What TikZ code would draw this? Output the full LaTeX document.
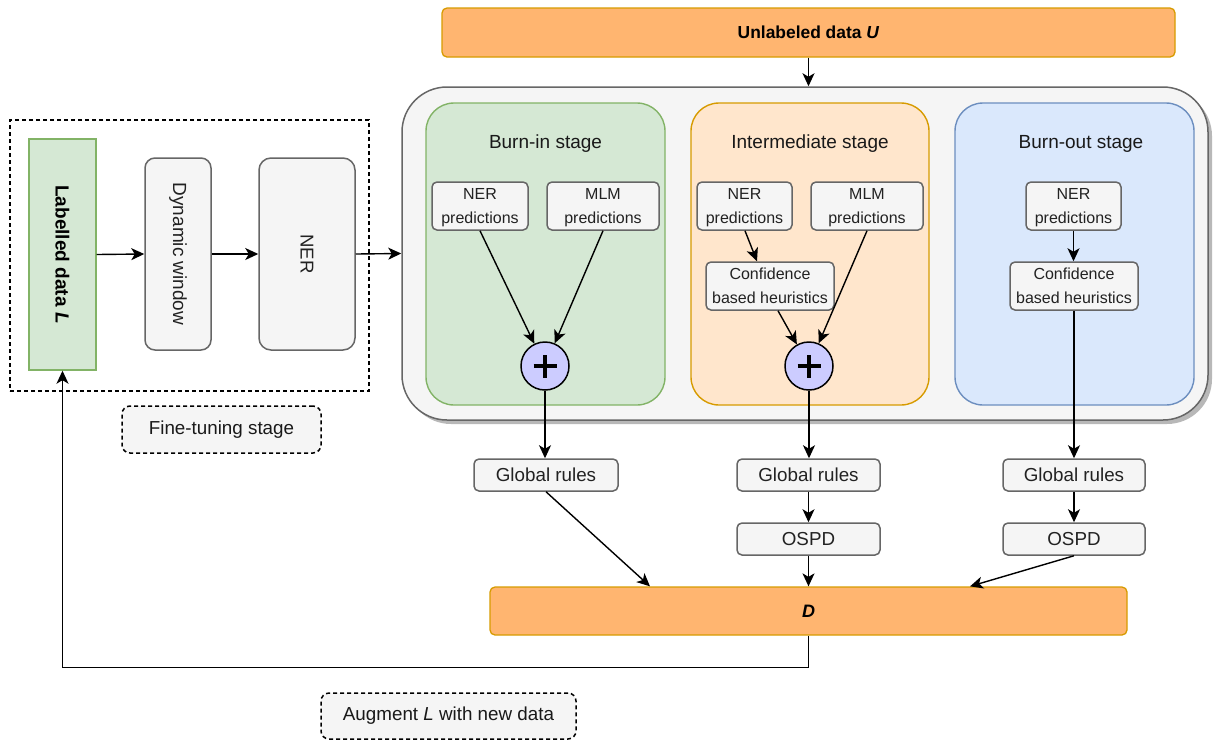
\documentclass[tikz,border=0pt]{standalone}
\usepackage{fontspec}
\setmainfont{Liberation Sans}
\usetikzlibrary{arrows.meta}
\definecolor{orfill}{HTML}{FFB570}
\definecolor{ordraw}{HTML}{D79B00}
\definecolor{grfill}{HTML}{D5E8D4}
\definecolor{grdraw}{HTML}{82B366}
\definecolor{pefill}{HTML}{FFE6CC}
\definecolor{bufill}{HTML}{DAE8FC}
\definecolor{budraw}{HTML}{6C8EBF}
\definecolor{gyfill}{HTML}{F5F5F5}
\definecolor{gydraw}{HTML}{666666}
\definecolor{gytext}{HTML}{222222}
\definecolor{plfill}{HTML}{CCCCFF}
\begin{document}
\begin{tikzpicture}[x=1pt,y=-1pt,
  arr/.style={-{Stealth[length=13pt,width=12pt,inset=3.5pt]}, line width=1.4pt, draw=black},
  gbox/.style={draw=gydraw, fill=gyfill, line width=1.5pt, rounded corners=5pt, inner sep=0pt, text=gytext, align=center},
  obox/.style={draw=ordraw, fill=orfill, line width=1.3pt, rounded corners=5pt, inner sep=0pt, align=center},
  stagebox/.style={line width=1.4pt, rounded corners=28pt, inner sep=0pt},
  small/.style={font=\fontsize{16}{23.5}\selectfont},
  midtxt/.style={font=\fontsize{18.8}{20}\selectfont},
  title/.style={font=\fontsize{19}{22}\selectfont, text=black!90},
  dashbox/.style={draw=black, line width=1.3pt, dash pattern=on 4pt off 3pt},
  pluscirc/.style={circle, draw=black, fill=plfill, line width=1.5pt, minimum size=48pt, inner sep=0pt}
]
\useasboundingbox (0,0) rectangle (1213,740);

% Unlabeled data
\node[obox, minimum width=733pt, minimum height=49pt, font=\bfseries\fontsize{17.4}{20}\selectfont] (U) at (808.5,32.5) {Unlabeled data \textit{U}};

% big container with shadow
\fill[black!28, rounded corners=45pt] (406,91) rectangle (1212,424);
\node[draw=gydraw, fill=gyfill, line width=1.5pt, rounded corners=45pt, minimum width=806pt, minimum height=333pt, inner sep=0pt] (big) at (805,253.5) {};

% stages
\node[stagebox, draw=grdraw, fill=grfill, minimum width=239pt, minimum height=302pt] (s1) at (545.5,254) {};
\node[stagebox, draw=ordraw, fill=pefill, minimum width=238pt, minimum height=302pt] (s2) at (810,254) {};
\node[stagebox, draw=budraw, fill=bufill, minimum width=239pt, minimum height=302pt] (s3) at (1074.5,254) {};
\node[title] (t1) at (545.5,143.5) {Burn-in stage};
\node[title] (t2) at (810,143.5) {Intermediate stage};
\node[title] (t3) at (1081,143.5) {Burn-out stage};

% small boxes
\node[gbox, small, minimum width=96pt, minimum height=48pt] (ner1) at (480,206) {NER\\\smash{predictions}};
\node[gbox, small, minimum width=112pt, minimum height=48pt] (mlm1) at (603,206) {MLM\\\smash{predictions}};
\node[gbox, small, minimum width=95pt, minimum height=48pt] (ner2) at (744.5,206) {NER\\\smash{predictions}};
\node[gbox, small, minimum width=112pt, minimum height=48pt] (mlm2) at (867,206) {MLM\\\smash{predictions}};
\node[gbox, small, minimum width=128pt, minimum height=48pt] (conf2) at (770,286) {Confidence\\based heuristics};
\node[gbox, small, minimum width=95pt, minimum height=48pt] (ner3) at (1073.5,206) {NER\\\smash{predictions}};
\node[gbox, small, minimum width=128pt, minimum height=48pt] (conf3) at (1074,286) {Confidence\\based heuristics};

% plus circles
\node[pluscirc] (p1) at (545,366) {};
\node[pluscirc] (p2) at (809,366) {};
\foreach \p in {p1,p2}{
  \draw[line width=4.6pt] ([xshift=-11.5pt]\p.center) -- ([xshift=11.5pt]\p.center);
  \draw[line width=4.6pt] ([yshift=-11.5pt]\p.center) -- ([yshift=11.5pt]\p.center);
}

% lower boxes
\node[gbox, midtxt, minimum width=144pt, minimum height=32pt] (gr1) at (546,475) {Global rules};
\node[gbox, midtxt, minimum width=143pt, minimum height=32pt] (gr2) at (808.5,475) {Global rules};
\node[gbox, midtxt, minimum width=142pt, minimum height=32pt] (gr3) at (1074,475) {Global rules};
\node[gbox, midtxt, minimum width=143pt, minimum height=32pt] (os2) at (808.5,539) {OSPD};
\node[gbox, midtxt, minimum width=142pt, minimum height=32pt] (os3) at (1074,539) {OSPD};
\node[obox, minimum width=637pt, minimum height=48pt, font=\bfseries\itshape\fontsize{18}{20}\selectfont] (D) at (808.5,611) {D};

% fine-tuning area
\node[dashbox, minimum width=359pt, minimum height=271pt, inner sep=0pt] (ft) at (189.5,255.5) {};
\node[draw=grdraw, fill=grfill, line width=1.4pt, minimum width=67pt, minimum height=231pt, inner sep=0pt] (L) at (62.5,254.5) {};
\node[rotate=-90, font=\bfseries\fontsize{19}{22}\selectfont] (Lt) at (L.center) {Labelled data \textit{L}};
\node[gbox, rounded corners=10pt, minimum width=66pt, minimum height=192pt] (dw) at (178,254) {};
\node[rotate=-90, text=gytext, font=\fontsize{19}{22}\selectfont] (dwt) at (dw.center) {Dynamic window};
\node[gbox, rounded corners=12pt, minimum width=96pt, minimum height=192pt] (nerb) at (307,254) {};
\node[rotate=-90, text=gytext, font=\fontsize{18.6}{22}\selectfont] (nerbt) at (nerb.center) {NER};
\node[gbox, dash pattern=on 4pt off 3pt, draw=black, rounded corners=8pt, minimum width=199pt, minimum height=47pt, text=black!90, font=\fontsize{18.8}{22}\selectfont] (fts) at (221.5,429.5) {Fine-tuning stage};
\node[gbox, dash pattern=on 4pt off 3pt, draw=black, rounded corners=8pt, minimum width=255pt, minimum height=46pt, text=black!90, font=\fontsize{18.8}{22}\selectfont] (aug) at (448.5,716) {Augment \textit{L} with new data};

% connectors
\draw[arr] (U.south) -- (U.south |- big.north);
\draw[arr] (L.east) -- (dw.west);
\draw[arr] (dw.east) -- (nerb.west);
\draw[arr] (nerb.east) -- (big.west);
\draw[arr] (ner1.south) -- (p1);
\draw[arr] (mlm1.south) -- (p1);
\draw[arr] ([xshift=0.5pt]ner2.south) -- ([xshift=-13pt]conf2.north);
\draw[arr] ([xshift=8pt]conf2.south) -- (p2);
\draw[arr] (mlm2.south) -- (p2);
\draw[arr] (ner3.south) -- (ner3.south |- conf3.north);
\draw[arr] (conf3.south) -- (gr3.north);
\draw[arr] (p1.south) -- (p1.south |- gr1.north);
\draw[arr] (p2.south) -- (p2.south |- gr2.north);
\draw[arr] (gr2.south) -- (os2.north);
\draw[arr] (gr3.south) -- (os3.north);
\draw[arr] (gr1.south) -- ([xshift=-158.5pt]D.north);
\draw[arr] (os2.south) -- (D.north);
\draw[arr] (os3.south) -- ([xshift=161.5pt]D.north);
\draw[arr] (D.south) -- ++(0,32) -| (L.south);
\end{tikzpicture}
\end{document}
